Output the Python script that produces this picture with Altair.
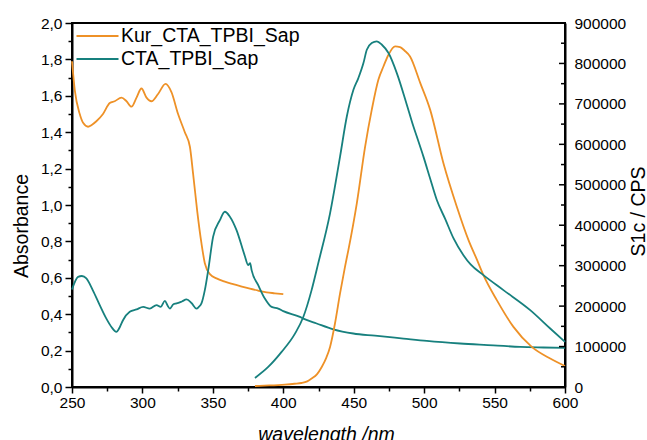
import altair as alt
import pandas as pd

# ---------------- data ----------------
series = ["Kur_CTA_TPBI_Sap", "CTA_TPBI_Sap"]
colors = ["#EE9127", "#17807E"]

# absorbance (left axis)
kur_abs_wl = [250, 252, 255.5, 258, 261.4, 264, 267.3, 272, 276.8, 280.3, 285.1, 288.7,
              292.2, 295.8, 299.3, 302.9, 306.4, 311.1, 316.4, 320.6, 325.3, 330.1, 333.7,
              336, 339, 341.9, 344.3, 347.9, 352.6, 358, 364.4, 370, 376.3, 382, 388.2, 394, 400]
kur_abs_val = [1.79, 1.63, 1.50, 1.45, 1.43, 1.44, 1.46, 1.50, 1.56, 1.57, 1.59, 1.57,
               1.54, 1.59, 1.64, 1.59, 1.57, 1.61, 1.665, 1.62, 1.50, 1.40, 1.32,
               1.17, 0.96, 0.79, 0.68, 0.62, 0.597, 0.58, 0.565, 0.553, 0.54, 0.53, 0.52, 0.515, 0.51]

cta_abs_wl = [250, 254.3, 257, 260.2, 264.9, 269.7, 274.4, 278, 281.5, 284, 286.2, 291,
              295.8, 300.5, 305.2, 310, 313, 315.9, 318, 319.5, 322, 324.2, 328, 331.3,
              335, 338.4, 340, 341.9, 344.3, 346.7, 350.2, 355, 358.5, 362.1, 366.8,
              372.7, 375, 376.5, 377.5, 382.2, 386.9, 391.7, 396.4, 400, 411.8, 414.2,
              423.7, 435.5, 449.7, 465.1, 485.3, 501.9, 525.6, 549.2, 568.2, 584.8, 600]
cta_abs_val = [0.536, 0.605, 0.61, 0.597, 0.53, 0.45, 0.376, 0.33, 0.303, 0.33, 0.367, 0.413,
               0.426, 0.44, 0.431, 0.45, 0.44, 0.473, 0.445, 0.431, 0.455, 0.459, 0.47, 0.481,
               0.46, 0.431, 0.44, 0.459, 0.532, 0.642, 0.826, 0.917, 0.963, 0.936, 0.862,
               0.72, 0.67, 0.68, 0.642, 0.56, 0.486, 0.44, 0.431, 0.417, 0.385, 0.376,
               0.349, 0.317, 0.294, 0.282, 0.266, 0.253, 0.239, 0.229, 0.22, 0.217, 0.215]

# emission (right axis, counts per second)
cta_em_wl = [379.9, 389.3, 398.8, 408.3, 414.2, 420.1, 424.8, 433.2, 440.3, 445.1, 449.8,
             453.3, 456.9, 459.3, 462.8, 466.4, 470, 474.7, 480.6, 487.7, 492.4, 494.8,
             499.5, 504.3, 509, 515, 520.8, 527.9, 533, 542.1, 556.3, 575.3, 589.5, 600]
cta_em_val = [22300, 49500, 86700, 132000, 173000, 239500, 305600, 429400, 569600, 668700,
              734800, 763800, 800900, 833900, 850400, 854500, 846200, 825700, 776200, 698000,
              644000, 619200, 569600, 515000, 462400, 415000, 368000, 326000, 303000, 276600,
              239500, 190000, 144600, 111400]

kur_em_wl = [379.9, 390, 401.2, 408, 413, 417, 420.1, 424, 427.3, 430.5, 433.2, 436.7, 440.3,
             443.8, 446.2, 452.2, 458.1, 462.8, 467.5, 471.1, 474.7, 479.4, 482.9, 486, 490,
             497.2, 504.3, 513.7, 523.2, 531.5, 537.4, 542.1, 551.6, 563.4, 576.4, 589.5, 600]
kur_em_val = [2500, 3800, 6000, 8000, 9900, 14000, 20800, 32000, 49500, 72000, 99100, 157000,
              231300, 297200, 338500, 454200, 594400, 685200, 759600, 792500, 821500, 842000,
              840500, 832000, 817300, 752000, 685200, 553300, 445800, 363300, 315500, 276600,
              214700, 148600, 99100, 70300, 52000]

# tick values
x_ticks = list(range(250, 601, 25))
abs_ticks = [round(i * 0.1, 1) for i in range(21)]
cps_major = list(range(0, 900001, 100000))
cps_minor = list(range(50000, 900000, 100000))

# ---------------- tables ----------------
abs_df = pd.concat([
    pd.DataFrame({"wl": kur_abs_wl, "absorb": kur_abs_val, "series": series[0]}),
    pd.DataFrame({"wl": cta_abs_wl, "absorb": cta_abs_val, "series": series[1]}),
])
em_df = pd.concat([
    pd.DataFrame({"wl": kur_em_wl, "cps": kur_em_val, "series": series[0]}),
    pd.DataFrame({"wl": cta_em_wl, "cps": cta_em_val, "series": series[1]}),
])
major_df = pd.DataFrame({"cps": cps_major})
minor_df = pd.DataFrame({"cps": cps_minor})

W, H = 493, 364
FONT = "Liberation Sans"

x_enc = alt.X(
    "wl:Q",
    scale=alt.Scale(domain=[250, 600], nice=False, zero=False),
    axis=alt.Axis(
        values=x_ticks, format="d", labelFlush=False,
        labelExpr="datum.value % 50 === 0 ? datum.label : ''",
        tickSize={"condition": {"test": "datum.value % 50 === 0", "value": 6}, "value": 4},
        labelPadding=2,
        title="wavelength /nm", titleFontStyle="italic",
        titleX=254, titleY=53.5, titleBaseline="alphabetic", titleAlign="center",
    ),
)

y_left = alt.Y(
    "absorb:Q",
    scale=alt.Scale(domain=[0, 2], nice=False, zero=False),
    axis=alt.Axis(
        orient="left", values=abs_ticks, labelFlush=False,
        labelExpr="round(datum.value * 10) % 2 === 0 ? replace(format(datum.value, '.1f'), '.', ',') : ''",
        tickSize={"condition": {"test": "round(datum.value * 10) % 2 === 0", "value": 7}, "value": 4},
        labelPadding=3,
        title="Absorbance", titleAngle=270, titleX=-45, titleY=202.5,
        titleBaseline="alphabetic", titleAlign="center",
    ),
)

y_right = alt.Y(
    "cps:Q",
    scale=alt.Scale(domain=[0, 900000], nice=False, zero=False),
    axis=alt.Axis(
        orient="right", values=cps_major, format="d", ticks=False, labelPadding=9,
        labelFlush=False,
        title="S1c / CPS", titleAngle=270, titleX=79, titleY=188,
        titleBaseline="alphabetic", titleAlign="center",
    ),
)

color_enc = alt.Color(
    "series:N",
    scale=alt.Scale(domain=series, range=colors),
    sort=series,
    legend=alt.Legend(
        title=None, orient="none", legendX=14, legendY=1.5,
        symbolType="M-2,0H2", symbolSize=441, symbolStrokeWidth=2,
        labelFont=FONT, labelFontSize=19.5, labelColor="black", labelOffset=12,
        padding=0, rowPadding=2, labelLimit=400,
    ),
)

abs_layer = alt.Chart(abs_df).mark_line(strokeWidth=1.8, interpolate="monotone").encode(
    x=x_enc, y=y_left, color=color_enc, detail="series:N"
)

em_lines = alt.Chart(em_df).mark_line(strokeWidth=1.8, interpolate="monotone").encode(
    x=x_enc, y=y_right, color=color_enc, detail="series:N"
)
major_ticks = alt.Chart(major_df).mark_rule(color="black", strokeWidth=1.5).encode(
    y=y_right, x=alt.value(W - 6), x2=alt.value(W)
)
minor_ticks = alt.Chart(minor_df).mark_rule(color="black", strokeWidth=1.5).encode(
    y=y_right, x=alt.value(W - 4), x2=alt.value(W)
)
em_layer = alt.layer(em_lines, major_ticks, minor_ticks)

chart = alt.layer(abs_layer, em_layer).resolve_scale(y="independent").properties(
    width=W, height=H,
    autosize=alt.AutoSizeParams(type="none"),
    padding={"left": 72, "top": 23, "right": 82, "bottom": 53},
).configure_axis(
    labelFont=FONT, labelFontSize=15.5, labelColor="black",
    titleFont=FONT, titleFontSize=19.5, titleFontWeight="normal", titleColor="black",
    domainColor="black", domainWidth=2, tickColor="black", tickWidth=1.5, grid=False,
).configure_view(stroke="black", strokeWidth=2)

chart.save("out.html", embed_options={"renderer": "svg", "actions": False})
